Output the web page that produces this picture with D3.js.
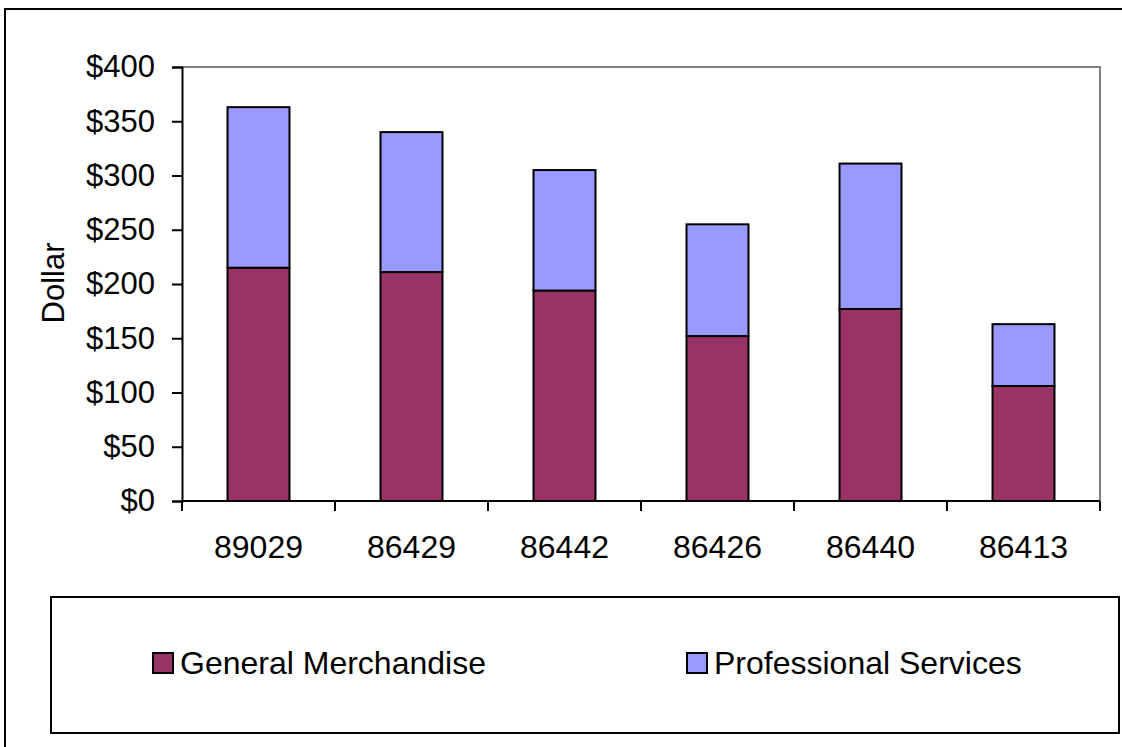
<!DOCTYPE html>
<html>
<head>
<meta charset="utf-8">
<script src="https://cdn.jsdelivr.net/npm/d3@7"></script>
<style>
  body { margin: 0; background: #fff; }
  svg text { font-family: "Liberation Sans", Arial, sans-serif; fill: #000; }
</style>
</head>
<body>
<div id="chart"></div>
<script>
// data
const zips = ["89029", "86429", "86442", "86426", "86440", "86413"];
const generalMerch = [215, 211, 194, 152, 177, 106];
const profServices = [148, 129, 111, 103, 134, 57];
const seriesNames = ["General Merchandise", "Professional Services"];
const seriesColors = ["#993366", "#9999FF"];
const yTicks = [0, 50, 100, 150, 200, 250, 300, 350, 400];

const W = 1122, H = 747;
const margin = { top: 67, right: 22, bottom: 246, left: 182 },
      width = W - margin.left - margin.right,
      height = H - margin.top - margin.bottom;

const svg = d3.select("#chart")
  .append("svg")
  .attr("width", W)
  .attr("height", H);

// outer chart frame (runs off the right and bottom edge)
svg.append("rect")
  .attr("x", 5).attr("y", 9)
  .attr("width", W + 10).attr("height", H + 10)
  .attr("fill", "none").attr("stroke", "#000").attr("stroke-width", 2);

const g = svg.append("g")
  .attr("transform", "translate(" + margin.left + "," + margin.top + ")");

const x = d3.scaleBand()
  .domain(zips)
  .range([0, width])
  .paddingInner(0.595)
  .paddingOuter(0.2975);

const y = d3.scaleLinear()
  .domain([0, 400])
  .range([height, 0]);

// plot area border (grey top and right)
g.append("path")
  .attr("d", "M0,0H" + width + "V" + height)
  .attr("fill", "none").attr("stroke", "#808080").attr("stroke-width", 2);

const rows = zips.map((z, i) => ({ zip: z, gm: generalMerch[i], ps: profServices[i] }));
const stacked = d3.stack().keys(["gm", "ps"])(rows);

g.selectAll("g.series")
  .data(stacked)
  .enter()
  .append("g")
  .attr("class", "series")
  .attr("fill", (d, i) => seriesColors[i])
  .selectAll("rect")
  .data(d => d)
  .enter()
  .append("rect")
  .attr("x", d => x(d.data.zip))
  .attr("y", d => y(d[1]))
  .attr("width", x.bandwidth())
  .attr("height", d => y(d[0]) - y(d[1]))
  .attr("stroke", "#000")
  .attr("stroke-width", 2);

// y axis
const yAxis = g.append("g")
  .call(d3.axisLeft(y).tickValues(yTicks).tickFormat(d => "$" + d).tickSize(10).tickPadding(17));
yAxis.select(".domain").attr("stroke-width", 2);
yAxis.selectAll(".tick line").attr("stroke-width", 2);
yAxis.selectAll("text").style("font-size", "31px");

// x axis, ticks between categories
const step = x.step();
const xAxis = g.append("g")
  .attr("transform", "translate(0," + height + ")");
xAxis.append("line")
  .attr("x1", 0).attr("x2", width)
  .attr("stroke", "#000").attr("stroke-width", 2);
xAxis.selectAll("line.tk")
  .data(d3.range(zips.length + 1))
  .enter()
  .append("line")
  .attr("class", "tk")
  .attr("x1", i => i * step).attr("x2", i => i * step)
  .attr("y1", 0).attr("y2", 10)
  .attr("stroke", "#000").attr("stroke-width", 2);
xAxis.selectAll("text")
  .data(zips)
  .enter()
  .append("text")
  .attr("x", d => x(d) + x.bandwidth() / 2)
  .attr("y", 57)
  .attr("text-anchor", "middle")
  .style("font-size", "32px")
  .text(d => d);

// y title
svg.append("text")
  .attr("transform", "translate(64,283) rotate(-90)")
  .attr("text-anchor", "middle")
  .style("font-size", "31px")
  .text("Dollar");

// legend
const legend = svg.append("g");
legend.append("rect")
  .attr("x", 51).attr("y", 597)
  .attr("width", 1068).attr("height", 136)
  .attr("fill", "#fff").attr("stroke", "#000").attr("stroke-width", 2);

const legendX = [153, 687];
const items = legend.selectAll("g.item")
  .data(seriesNames)
  .enter()
  .append("g")
  .attr("class", "item")
  .attr("transform", (d, i) => "translate(" + legendX[i] + ",653)");
items.append("rect")
  .attr("width", 20).attr("height", 20)
  .attr("fill", (d, i) => seriesColors[i])
  .attr("stroke", "#000").attr("stroke-width", 2);
items.append("text")
  .attr("x", 27).attr("y", 21)
  .style("font-size", "32px")
  .text(d => d);
</script>
</body>
</html>
